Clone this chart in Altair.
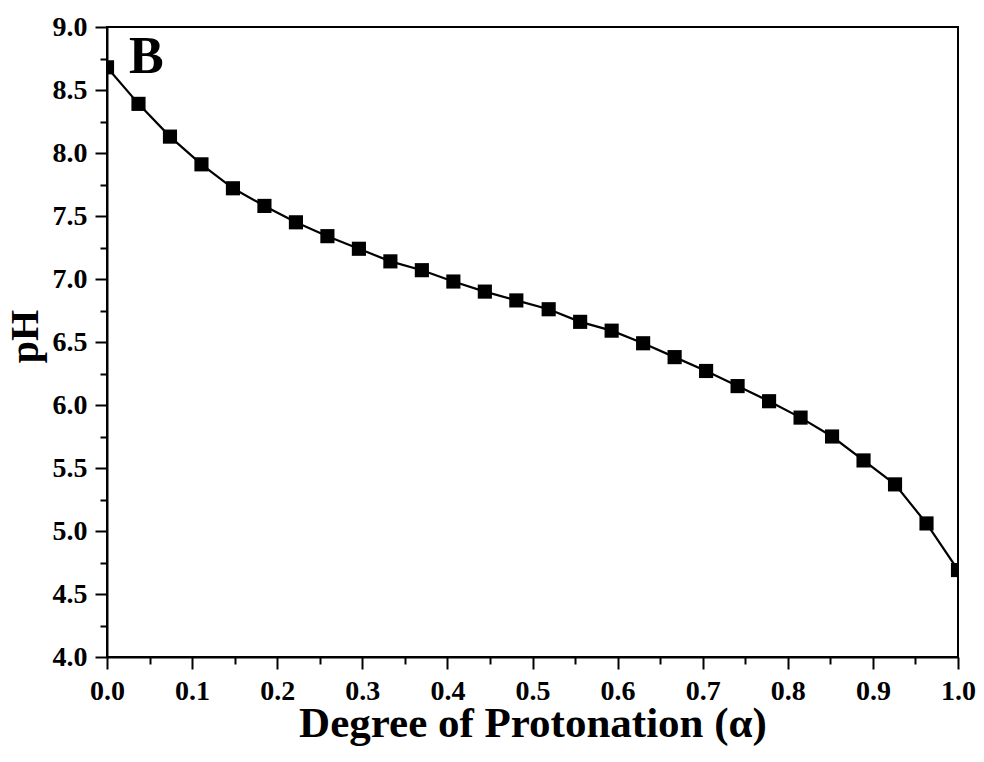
import altair as alt
import pandas as pd

# Data
alpha = [0.0, 0.037, 0.074, 0.111, 0.148, 0.185, 0.222, 0.259, 0.296, 0.333,
         0.370, 0.407, 0.444, 0.481, 0.519, 0.556, 0.593, 0.630, 0.667, 0.704,
         0.741, 0.778, 0.815, 0.852, 0.889, 0.926, 0.963, 1.0]
ph = [8.68, 8.39, 8.13, 7.91, 7.72, 7.58, 7.45, 7.34, 7.24, 7.14,
      7.07, 6.98, 6.90, 6.83, 6.76, 6.66, 6.59, 6.49, 6.38, 6.27,
      6.15, 6.03, 5.90, 5.75, 5.56, 5.37, 5.06, 4.69]

x_ticks = [0.0, 0.05, 0.1, 0.15, 0.2, 0.25, 0.3, 0.35, 0.4, 0.45, 0.5,
           0.55, 0.6, 0.65, 0.7, 0.75, 0.8, 0.85, 0.9, 0.95, 1.0]
y_ticks = [4.0, 4.25, 4.5, 4.75, 5.0, 5.25, 5.5, 5.75, 6.0, 6.25, 6.5,
           6.75, 7.0, 7.25, 7.5, 7.75, 8.0, 8.25, 8.5, 8.75, 9.0]
panel_label = ["B"]

df = pd.DataFrame({"alpha": alpha, "pH": ph})

FONT = "Times New Roman, Liberation Serif, Tinos, serif"

x_major = "abs(datum.value*10 - round(datum.value*10)) < 0.001"
y_major = "abs(datum.value*2 - round(datum.value*2)) < 0.001"

x_enc = alt.X(
    "alpha:Q",
    scale=alt.Scale(domain=[0, 1], nice=False, zero=False),
    axis=alt.Axis(
        values=x_ticks,
        labelExpr=f"({x_major}) ? format(datum.value, '.1f') : ''",
        tickSize={"condition": {"test": x_major, "value": 12}, "value": 7},
        title="Degree of Protonation (α)",
        titleFontSize=43,
        grid=False,
        labelFlush=False,
        labelOverlap=False,
        labelPadding=8,
        titleY=79,
        titleBaseline="alphabetic",
    ),
)
y_enc = alt.Y(
    "pH:Q",
    scale=alt.Scale(domain=[4, 9], nice=False, zero=False),
    axis=alt.Axis(
        values=y_ticks,
        labelExpr=f"({y_major}) ? format(datum.value, '.1f') : ''",
        tickSize={"condition": {"test": y_major, "value": 12}, "value": 7},
        title="pH",
        titleFontSize=40,
        grid=False,
        labelFlush=False,
        labelOverlap=False,
        labelPadding=8,
        titleAngle=-90,
        titleX=-70,
        titleY=309,
        titleAlign="center",
        titleBaseline="alphabetic",
    ),
)

base = alt.Chart(df)
line = base.mark_line(color="black", strokeWidth=2.2, clip=True).encode(x=x_enc, y=y_enc)
pts = base.mark_point(shape="square", filled=True, size=200, color="black",
                      opacity=1, clip=True).encode(x=x_enc, y=y_enc)

label = alt.Chart(pd.DataFrame({"t": panel_label})).mark_text(
    font=FONT, fontWeight="bold", fontSize=52, align="left",
    baseline="alphabetic", color="black"
).encode(text="t:N", x=alt.value(22), y=alt.value(46))

chart = alt.layer(line, pts, label).properties(
    width=851, height=630,
    autosize=alt.AutoSizeParams(type="none"),
    padding={"left": 99, "top": 19, "right": 18, "bottom": 95},
).configure_view(
    stroke="black", strokeWidth=2
).configure_axis(
    domainColor="black", domainWidth=2,
    tickColor="black", tickWidth=2,
    labelFont=FONT, labelFontWeight="bold", labelFontSize=28, labelColor="black",
    titleFont=FONT, titleFontWeight="bold", titleColor="black",
)

chart.save("out.html", embed_options={"renderer": "svg", "actions": False})
